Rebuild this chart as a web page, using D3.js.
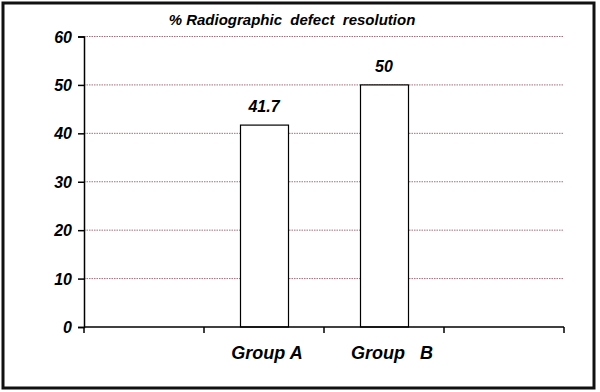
<!DOCTYPE html>
<html><head><meta charset="utf-8">
<script src="https://cdn.jsdelivr.net/npm/d3@7"></script>
<style>body{margin:0;background:#fff}svg{display:block}text{font-family:"Liberation Sans",Arial,sans-serif;font-weight:bold;font-style:italic;fill:#000}</style>
</head><body><svg id="c" width="600" height="392"></svg>
<script>
const categories = ["", "Group A", "Group B", " "];
const categoryLabels = ["", "Group A", "Group   B", ""];
const values = [null, 41.7, 50, null];
const valueLabels = ["", "41.7", "50", ""];
const yTicks = [0, 10, 20, 30, 40, 50, 60];
const title = "% Radiographic  defect  resolution";

const svg = d3.select("#c");
svg.append("rect").attr("x",3).attr("y",3).attr("width",591).attr("height",385)
  .attr("fill","#fff").attr("stroke","#111").attr("stroke-width",3);

const x = d3.scaleBand().domain(categories).range([84,564]).paddingInner(0.6).paddingOuter(0.3);
const y = d3.scaleLinear().domain([0,60]).range([327,36.5]);

// gridlines
svg.append("g").selectAll("line").data(yTicks.filter(t=>t>0)).join("line")
  .attr("x1",84).attr("x2",564).attr("y1",d=>y(d)).attr("y2",d=>y(d))
  .attr("stroke","#a86c78").attr("stroke-width",1).attr("stroke-dasharray","1.5,1");

// bars
const bars = categories.map((c,i)=>({c, v: values[i], l: valueLabels[i]})).filter(d=>d.v!=null);
svg.append("g").selectAll("rect").data(bars).join("rect")
  .attr("x",d=>Math.round(x(d.c))+0.5).attr("y",d=>y(d.v)).attr("width",x.bandwidth())
  .attr("height",d=>y(0)-y(d.v)).attr("fill","#fff").attr("stroke","#000").attr("stroke-width",1.2);
svg.append("g").selectAll("text").data(bars).join("text")
  .attr("x",d=>x(d.c)+x.bandwidth()/2).attr("y",d=>y(d.v)-13).attr("text-anchor","middle")
  .attr("font-size",16).text(d=>d.l);

// y axis
const ya = svg.append("g").attr("transform","translate(84,0)")
  .call(d3.axisLeft(y).tickValues(yTicks).tickSize(6).tickPadding(6).tickFormat(d3.format("d")));
ya.select(".domain").attr("stroke","#000").attr("stroke-width",1.5);
ya.selectAll(".tick line").attr("stroke","#000").attr("stroke-width",1.5);
ya.selectAll("text").attr("font-size",16).attr("font-family",null).attr("dy","0.35em");

// x axis
const xa = svg.append("g").attr("transform","translate(0,327)");
xa.append("line").attr("x1",84).attr("x2",564).attr("stroke","#000").attr("stroke-width",1.5);
const bounds = categories.map(c=>x(c)-x.step()*x.paddingInner()/2).concat([564]);
xa.selectAll("line.t").data(bounds).join("line").attr("class","t")
  .attr("x1",d=>d).attr("x2",d=>d).attr("y1",0).attr("y2",6).attr("stroke","#000").attr("stroke-width",1.5);
xa.selectAll("text").data(categories).join("text")
  .attr("x",(d,i)=>x(d)+x.bandwidth()/2+(i===2?8:3)).attr("y",32).attr("text-anchor","middle")
  .attr("font-size",18).style("white-space","pre").text((d,i)=>categoryLabels[i]);

svg.append("text").attr("x",292).attr("y",25).attr("text-anchor","middle").attr("font-size",15)
  .style("white-space","pre").text(title);
</script></body></html>
